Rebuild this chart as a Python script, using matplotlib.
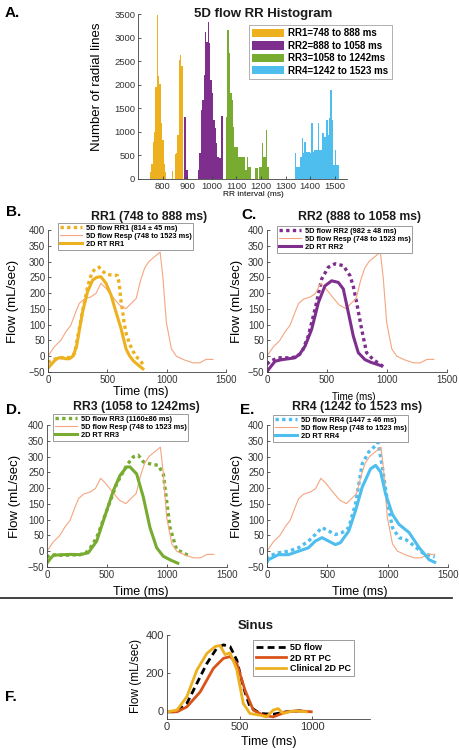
import matplotlib
matplotlib.use("Agg")
import matplotlib.pyplot as plt
import numpy as np

plt.rcParams['font.family'] = ['Liberation Sans', 'DejaVu Sans']

# colours (MATLAB-like)
c_rr1 = '#EDB120'
c_rr2 = '#7E2F8E'
c_rr3 = '#77AC30'
c_rr4 = '#4DBEEE'
c_resp = '#F6A57F'

# ---------------- histogram data ----------------
bin_w = 5.6
rr1_start, rr2_start, rr3_start, rr4_start = 748, 888, 1058, 1242
rr1_counts = [140, 310, 790, 1000, 1960, 3480, 2175, 2010, 1180, 830, 310, 140,
              0, 0, 0, 0, 170, 0, 530, 545, 935, 2520, 2620, 2400, 0]
rr2_counts = [1320, 190, 190, 0, 0, 0, 0, 0, 0, 0, 190, 545, 1460, 1675, 2200,
              3125, 2900, 3340, 2880, 2100, 1820, 1250, 1075, 760, 475, 440, 440,
              1330, 0, 0]
rr3_counts = [1320, 3160, 2670, 1820, 1675, 1110, 685, 685, 685, 475, 475, 475,
              475, 475, 190, 475, 260, 260, 0, 0, 0, 225, 225, 0, 260, 260, 760,
              475, 475, 1040, 260, 0, 0]
rr4_counts = [0] * 17 + [545, 260, 260, 260, 475, 865, 545, 790, 580, 580, 580,
                         545, 1180, 580, 615, 615, 615, 1180, 615, 615, 970, 900,
                         900, 1250, 935, 1290, 1890, 1250, 300, 615, 300, 300, 0]
hist_labels = ['RR1=748 to 888 ms', 'RR2=888 to 1058 ms',
               'RR3=1058 to 1242ms', 'RR4=1242 to 1523 ms']

# ---------------- flow curves ----------------
resp_t = [0, 51, 107, 150, 192, 234, 263, 305, 362, 404, 446, 489, 545, 602, 658,
          700, 743, 780, 814, 850, 884, 920, 945, 969, 997, 1040, 1082, 1150,
          1222, 1278, 1333, 1390]
resp_v = [0, 29, 50, 77, 98, 140, 167, 181, 188, 199, 231, 215, 188, 162, 151,
          167, 183, 240, 279, 300, 311, 322, 330, 247, 108, 23, 0, -12, -21, -21,
          -10, -10]

rr1_5d_t = [0, 50, 100, 150, 200, 225, 246, 268, 288, 310, 330, 352, 373, 400, 430,
            460, 486, 520, 557, 585, 600, 613, 630, 641, 660, 684, 710, 741, 780, 812]
rr1_5d_v = [-20, -10, -5, -5, -3, 10, 53, 95, 138, 175, 213, 245, 266, 278, 282,
            270, 261, 258, 257, 256, 230, 181, 140, 106, 70, 43, 20, 0, -15, -32]
rr1_2d_t = [0, 30, 60, 90, 120, 150, 180, 210, 240, 270, 291, 333, 376, 410, 446,
            489, 531, 573, 616, 658, 686, 720, 760, 800]
rr1_2d_v = [-38, -25, -12, -5, -5, -8, -8, 0, 30, 95, 140, 204, 241, 250, 252, 231,
            194, 140, 87, 23, 2, -15, -28, -40]

rr2_5d_t = [0, 25, 94, 150, 206, 250, 289, 344, 400, 456, 511, 567, 636, 692, 720,
            747, 789, 830, 886, 940, 983]
rr2_5d_v = [-25, -16, -5, -5, -5, 0, 11, 64, 149, 245, 282, 293, 287, 255, 220,
            170, 85, 11, -11, -25, -37]
rr2_2d_t = [0, 11, 67, 122, 180, 233, 275, 317, 372, 428, 483, 539, 594, 636, 678,
            719, 761, 817, 870, 928, 950]
rr2_2d_v = [-50, -43, -16, -11, -8, -5, 8, 32, 85, 170, 223, 239, 234, 213, 138,
            64, 11, -11, -20, -27, -30]

rr3_5d_t = [0, 25, 136, 275, 344, 414, 497, 580, 664, 719, 761, 803, 858, 928, 969,
            997, 1025, 1080, 1136, 1190]
rr3_5d_v = [-20, -11, -13, -11, 0, 43, 128, 213, 272, 299, 304, 283, 277, 272, 245,
            160, 75, 5, -5, -16]
rr3_2d_t = [0, 25, 53, 83, 136, 200, 275, 344, 414, 497, 553, 608, 664, 692, 747,
            803, 858, 914, 969, 1030, 1090]
rr3_2d_v = [-38, -25, -13, -12, -11, -10, -11, -5, 32, 128, 192, 240, 267, 267, 245,
            171, 75, 11, -16, -28, -38]

rr4_5d_t = [0, 11, 94, 178, 261, 344, 400, 456, 511, 567, 622, 678, 733, 789, 844,
            900, 920, 956, 997, 1039, 1094, 1150, 1206, 1289, 1372, 1390]
rr4_5d_v = [-25, -16, -5, 0, 11, 32, 53, 75, 64, 53, 59, 75, 149, 277, 315, 335,
            345, 267, 160, 75, 43, 37, 21, -5, -16, -18]
rr4_2d_t = [0, 11, 94, 178, 261, 344, 400, 456, 511, 567, 608, 678, 733, 789, 858,
            900, 942, 983, 1039, 1094, 1178, 1261, 1344, 1390]
rr4_2d_v = [-35, -27, -11, -11, 0, 11, 32, 43, 32, 21, 27, 64, 128, 203, 261, 272,
            251, 181, 117, 85, 59, 11, -27, -35]

sin_5d_t = [0, 69, 137, 206, 275, 343, 389, 435, 481, 526, 572, 641, 732, 824, 915, 961]
sin_5d_v = [-5, -5, 39, 145, 250, 330, 348, 339, 268, 127, 21, -14, -18, -5, 0, -5]
sin_rt_t = [0, 69, 137, 229, 320, 389, 435, 481, 538, 595, 664, 732, 824, 915, 995]
sin_rt_v = [-5, -5, 21, 100, 224, 277, 286, 250, 109, 4, -23, -32, -5, 0, -5]
sin_cl_t = [0, 69, 137, 206, 275, 332, 366, 400, 435, 481, 526, 572, 641, 687, 732,
            767, 801, 870, 961]
sin_cl_v = [-5, 4, 75, 215, 303, 339, 345, 297, 306, 218, 39, -14, -23, -32, 4, 12,
            -14, 0, -5]

panels = [
    ('RR1 (748 to 888 ms)', 'B.', c_rr1, '5D flow RR1 (814 \u00b1 45 ms)', '2D RT RR1',
     rr1_5d_t, rr1_5d_v, rr1_2d_t, rr1_2d_v),
    ('RR2 (888 to 1058 ms)', 'C.', c_rr2, '5D flow RR2 (982 \u00b1 48 ms)', '2D RT RR2',
     rr2_5d_t, rr2_5d_v, rr2_2d_t, rr2_2d_v),
    ('RR3 (1058 to 1242ms)', 'D.', c_rr3, '5D flow RR3 (1160\u00b186 ms)', '2D RT RR3',
     rr3_5d_t, rr3_5d_v, rr3_2d_t, rr3_2d_v),
    ('RR4 (1242 to 1523 ms)', 'E.', c_rr4, '5D flow RR4 (1447 \u00b1 46 ms)', '2D RT RR4',
     rr4_5d_t, rr4_5d_v, rr4_2d_t, rr4_2d_v),
]

W, H = 459, 750
fig = plt.figure(figsize=(W / 100, H / 100), dpi=100)


def px_axes(left, top, right, bottom):
    return fig.add_axes([left / W, 1 - bottom / H, (right - left) / W, (bottom - top) / H])


def style(ax, size):
    for s in ['top', 'right']:
        ax.spines[s].set_visible(False)
    for s in ['left', 'bottom']:
        ax.spines[s].set_linewidth(0.6)
        ax.spines[s].set_color('#404040')
    ax.tick_params(direction='in', length=2.5, width=0.6, labelsize=size,
                   colors='#404040', labelcolor='#333333', pad=2)


# ---------------- A: histogram ----------------
axA = px_axes(138, 14, 347, 179)
for start, counts, col, lab in zip([rr1_start, rr2_start, rr3_start, rr4_start],
                                   [rr1_counts, rr2_counts, rr3_counts, rr4_counts],
                                   [c_rr1, c_rr2, c_rr3, c_rr4], hist_labels):
    edges = start + bin_w * np.arange(len(counts))
    axA.bar(edges, counts, width=bin_w, align='edge', color=col,
            linewidth=0, label=lab)
axA.set_xlim(700, 1550)
axA.set_ylim(0, 3500)
axA.set_xticks(range(800, 1501, 100))
axA.set_yticks(range(0, 3501, 500))
style(axA, 6.8)
fig.text(263 / W, 1 - 14 / H, '5D flow RR Histogram', fontsize=9.5,
         fontweight='bold', ha='center', va='center', color='#1a1a1a')
axA.set_ylabel('Number of radial lines', fontsize=9.5)
axA.yaxis.set_label_coords(-0.167, 0.56)
axA.set_xlabel('RR interval (ms)', fontsize=6)
axA.xaxis.set_label_coords(0.55, -0.075)
legA = axA.legend(loc='upper left', bbox_to_anchor=(249 / W, 1 - 25 / H),
                  bbox_transform=fig.transFigure, borderaxespad=0,
                  prop={'weight': 'bold', 'size': 7}, handlelength=3.3,
                  handleheight=0.9, handletextpad=0.4, labelspacing=0.25,
                  borderpad=0.35, frameon=True, fancybox=False)
legA.get_frame().set_edgecolor('#8c8c8c')
legA.get_frame().set_linewidth(0.6)
fig.text(5 / W, 1 - 13 / H, 'A.', fontsize=11, fontweight='bold', va='center')

# ---------------- B-E ----------------
boxes = [(48, 230, 226, 372), (267, 230, 447, 372), (47, 425, 227, 567), (267, 425, 448, 567)]
titles_xy = [(149, 217), (360, 217), (136, 407), (357, 407)]
letters_xy = [(6, 212), (241, 215), (6, 410), (240, 410)]
legend_xy = [(58, 223), (277, 226), (53, 414), (273, 415)]
xlabel_pos = [(0.52, -0.099, 9), (0.48, -0.141, 7), (0.52, -0.134, 9), (0.51, -0.134, 9)]
ylabel_x = [-0.163, -0.133, -0.144, -0.133]

for i, (title, letter, col, lab5d, lab2d, t5, v5, t2, v2) in enumerate(panels):
    ax = px_axes(*boxes[i])
    ax.plot(t5, v5, color=col, lw=2.4, linestyle=(0, (1, 1)), label=lab5d,
            solid_capstyle='butt', dash_capstyle='butt')
    ax.plot(resp_t, resp_v, color=c_resp, lw=0.8, label='5D flow Resp (748 to 1523 ms)')
    ax.plot(t2, v2, color=col, lw=2.2, label=lab2d)
    ax.set_xlim(0, 1500)
    ax.set_ylim(-50, 400)
    ax.set_xticks([0, 500, 1000, 1500])
    ax.set_yticks(range(-50, 401, 50))
    style(ax, 7)
    ax.set_ylabel('Flow (mL/sec)', fontsize=9.5)
    ax.yaxis.set_label_coords(ylabel_x[i], 0.5)
    xl = xlabel_pos[i]
    ax.set_xlabel('Time (ms)', fontsize=xl[2])
    ax.xaxis.set_label_coords(xl[0], xl[1])
    lx, ly = legend_xy[i]
    leg = ax.legend(loc='upper left', bbox_to_anchor=(lx / W, 1 - ly / H),
                    bbox_transform=fig.transFigure, borderaxespad=0,
                    prop={'weight': 'bold', 'size': 5.3}, handlelength=3.0,
                    handletextpad=0.5, labelspacing=0.1, borderpad=0.25,
                    frameon=True, fancybox=False, framealpha=1)
    leg.get_frame().set_edgecolor('#8c8c8c')
    leg.get_frame().set_linewidth(0.6)
    tx, ty = titles_xy[i]
    fig.text(tx / W, 1 - ty / H, title, fontsize=8.8, fontweight='bold',
             ha='center', va='center', color='#1a1a1a')
    lx2, ly2 = letters_xy[i]
    fig.text(lx2 / W, 1 - ly2 / H, letter, fontsize=11, fontweight='bold', va='center')

# separator line
fig.add_artist(plt.Line2D([0.0, 0.985], [1 - 598 / H, 1 - 598 / H],
                          color='#333333', lw=1.3, transform=fig.transFigure))

# ---------------- F: sinus ----------------
axF = px_axes(167, 635, 370, 719)
axF.plot(sin_5d_t, sin_5d_v, color='black', lw=2.0, linestyle=(0, (2.5, 1.5)), label='5D flow')
axF.plot(sin_rt_t, sin_rt_v, color='#D95319', lw=2.0, label='2D RT PC')
axF.plot(sin_cl_t, sin_cl_v, color=c_rr1, lw=2.0, label='Clinical 2D PC')
axF.set_xlim(0, 1400)
axF.set_ylim(-43, 400)
axF.set_xticks([0, 500, 1000])
axF.set_yticks([0, 200, 400])
style(axF, 8)
fig.text(256 / W, 1 - 626 / H, 'Sinus', fontsize=9.5, fontweight='bold',
         ha='center', va='center', color='#1a1a1a')
axF.set_xlabel('Time (ms)', fontsize=9)
axF.xaxis.set_label_coords(0.5, -0.2)
axF.set_ylabel('Flow (mL/sec)', fontsize=8.5)
axF.yaxis.set_label_coords(-0.123, 0.51)
legF = axF.legend(loc='upper left', bbox_to_anchor=(253 / W, 1 - 640 / H),
                  bbox_transform=fig.transFigure, borderaxespad=0,
                  prop={'weight': 'bold', 'size': 6.5}, handlelength=3.4,
                  handletextpad=0.4, labelspacing=0.2, borderpad=0.3,
                  frameon=True, fancybox=False, framealpha=1)
legF.get_frame().set_edgecolor('#8c8c8c')
legF.get_frame().set_linewidth(0.6)
fig.text(5 / W, 1 - 697 / H, 'F.', fontsize=11, fontweight='bold', va='center')

fig.savefig('out.png', dpi=100)
